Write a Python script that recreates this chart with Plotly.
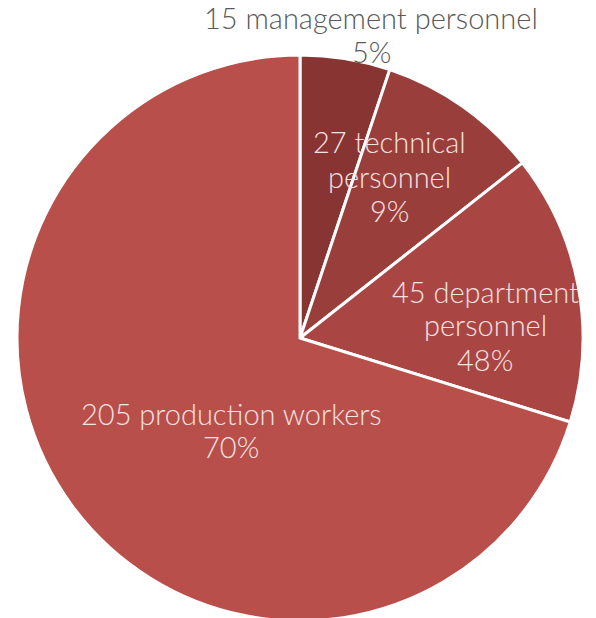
import plotly.graph_objects as go

# staff breakdown
counts = [15, 27, 45, 205]
names = ["management personnel", "technical personnel", "department personnel", "production workers"]
pct_labels = ["5%", "9%", "48%", "70%"]  # as printed on the chart
colors = ["#873433", "#9A3E3C", "#A94644", "#B94F4A"]

# how each label is wrapped, and where its centre sits (px from figure top-left)
label_lines = [
    ["15 management personnel"],
    ["27 technical", "personnel"],
    ["45 department", "personnel"],
    ["205 production workers"],
]
label_pos = [(363, 27), (381, 168), (477, 317), (223, 422)]
label_color = ["#595959", "#F6E2E1", "#F6E2E1", "#F6E2E1"]
line_gap = 34

# page body adds an 8px margin; the pie runs a little past the bottom of the window
W, H = 588, 620
cx, cy, r = 292, 330, 283

fig = go.Figure(go.Pie(
    values=counts,
    labels=names,
    sort=False,
    direction="clockwise",
    marker=dict(colors=colors, line=dict(color="white", width=3)),
    textinfo="none",
    hoverinfo="label+value+percent",
    showlegend=False,
    domain=dict(x=[(cx - r) / W, (cx + r) / W], y=[(H - cy - r) / H, (H - cy + r) / H]),
))

# one annotation per line so the line spacing matches the original
for lines, pct, (px, py), col in zip(label_lines, pct_labels, label_pos, label_color):
    rows = lines + [pct]
    n = len(rows)
    for i, row in enumerate(rows):
        y_px = py + (i - (n - 1) / 2) * line_gap
        fig.add_annotation(
            text=row,
            x=px / W, y=1 - y_px / H, xref="paper", yref="paper",
            xanchor="center", yanchor="middle", showarrow=False,
            font=dict(family="Lato, Open Sans, sans-serif", size=29, color=col, weight=300),
        )

fig.update_layout(
    width=W, height=H,
    margin=dict(l=0, r=0, t=0, b=0),
    paper_bgcolor="white",
    plot_bgcolor="white",
)

fig.write_html("out.html")
